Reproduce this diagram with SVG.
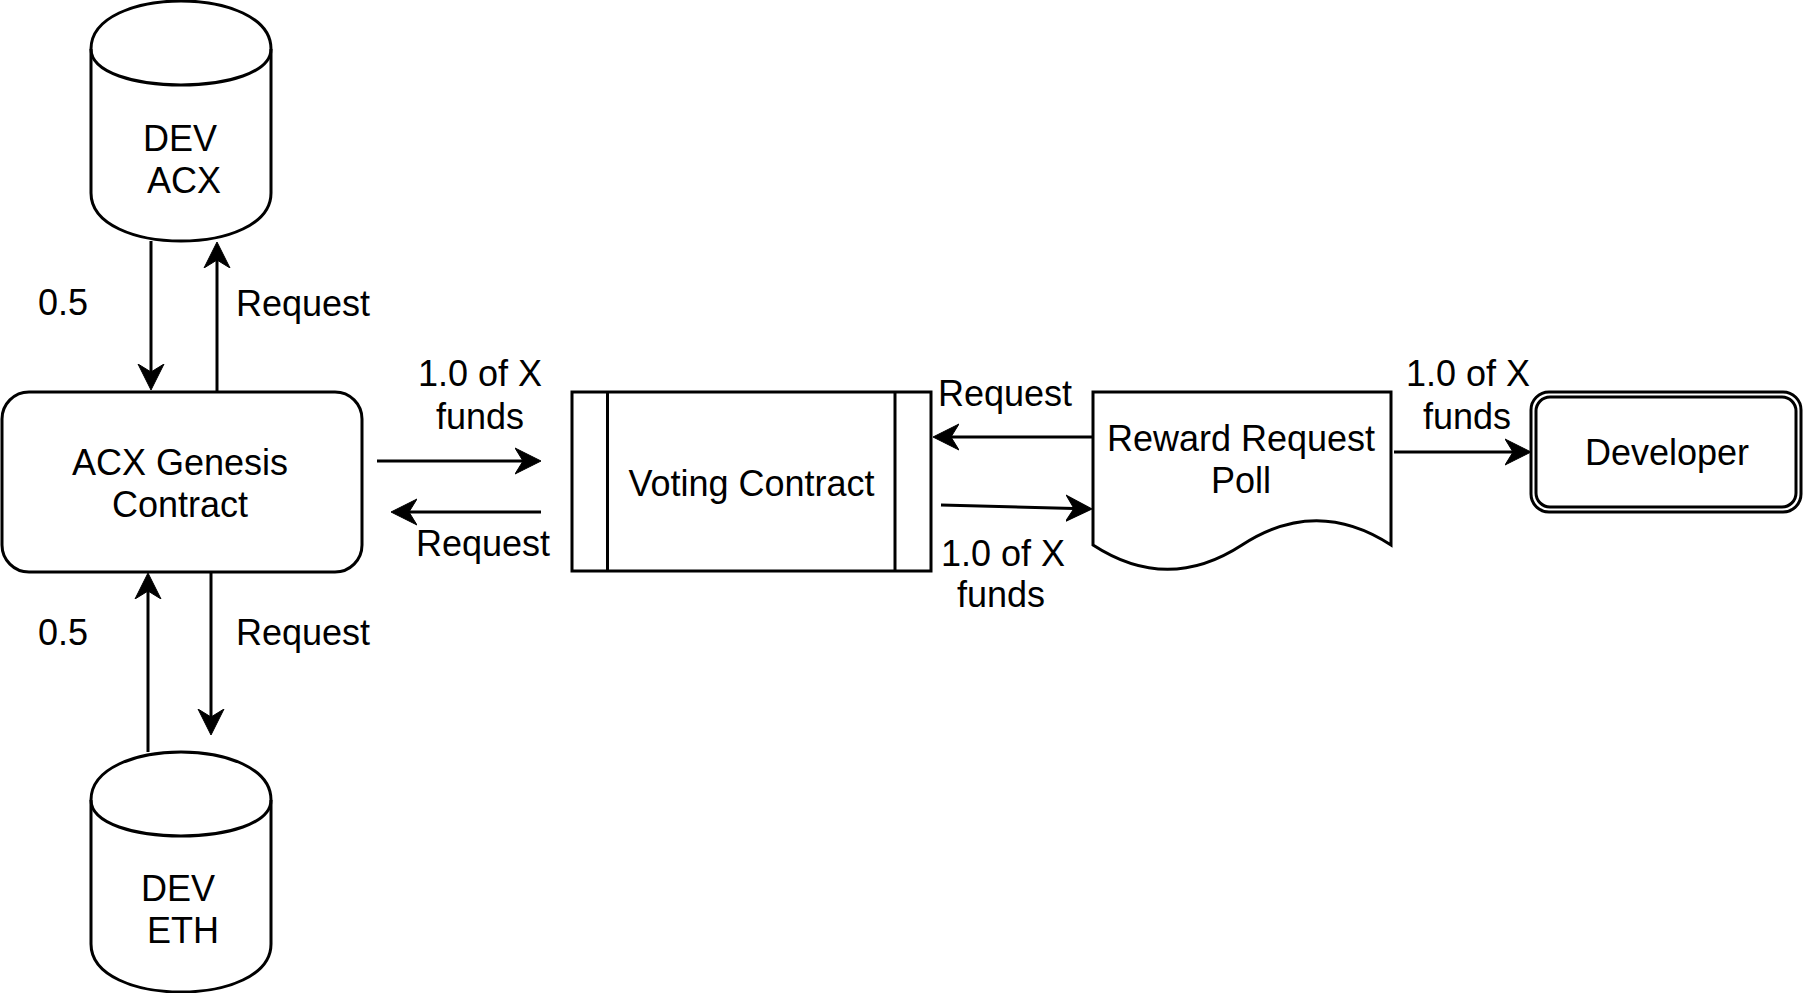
<svg xmlns="http://www.w3.org/2000/svg" width="1803" height="993" viewBox="0 0 1803 993">
<style>
.s{fill:#fff;stroke:#000;stroke-width:3}
.n{fill:none;stroke:#000;stroke-width:3}
.e{fill:none;stroke:#000;stroke-width:3;marker-end:url(#arr)}
text{font-family:"Liberation Sans",Arial,Helvetica,sans-serif;font-size:36px;fill:#000;text-anchor:middle}
</style>
<defs>
<marker id="arr" viewBox="0 0 28 28" refX="8" refY="14" markerWidth="28" markerHeight="28" markerUnits="userSpaceOnUse" orient="auto">
<path d="M26,14 L0,1 L8,14 L0,27 Z" fill="#000" stroke="#000" stroke-width="1"/>
</marker>
</defs>
<rect width="1803" height="993" fill="#fff"/>
<g id="connectors">
<line class="e" x1="151" y1="241" x2="151" y2="372"/>
<line class="e" x1="217" y1="392" x2="217" y2="260"/>
<line class="e" x1="148" y1="752" x2="148" y2="591"/>
<line class="e" x1="211" y1="572" x2="211" y2="717"/>
<line class="e" x1="377" y1="461" x2="523" y2="461"/>
<line class="e" x1="541" y1="512" x2="409" y2="512"/>
<line class="e" x1="1093" y1="437" x2="951" y2="437"/>
<line class="e" x1="941" y1="505" x2="1074" y2="508.5"/>
<line class="e" x1="1394" y1="452" x2="1513" y2="452"/>
<text x="63" y="315">0.5</text>
<text x="303" y="316">Request</text>
<text x="63" y="645">0.5</text>
<text x="303" y="645">Request</text>
<text x="480" y="386">1.0 of X</text>
<text x="480" y="429">funds</text>
<text x="483" y="556">Request</text>
<text x="1005" y="406">Request</text>
<text x="1003" y="566">1.0 of X</text>
<text x="1001" y="607">funds</text>
<text x="1468" y="386">1.0 of X</text>
<text x="1467" y="429">funds</text>
</g>
<g id="dev-acx">
<path class="s" d="M91,49 C91,-15 271,-15 271,49 L271,193 C271,257 91,257 91,193 Z"/>
<path class="n" d="M91,49 C91,97 271,97 271,49"/>
<text x="180" y="151">DEV</text>
<text x="184" y="193">ACX</text>
</g>
<g id="dev-eth">
<path class="s" d="M91,800 C91,736 271,736 271,800 L271,944 C271,1008 91,1008 91,944 Z"/>
<path class="n" d="M91,800 C91,848 271,848 271,800"/>
<text x="178" y="901">DEV</text>
<text x="183" y="943">ETH</text>
</g>
<g id="acx-genesis">
<rect class="s" x="2" y="392" width="360" height="180" rx="27"/>
<text x="180" y="475">ACX Genesis</text>
<text x="180" y="517">Contract</text>
</g>
<g id="voting-contract">
<rect class="s" x="572" y="392" width="359" height="179"/>
<line class="n" x1="607.5" y1="392" x2="607.5" y2="571"/>
<line class="n" x1="895" y1="392" x2="895" y2="571"/>
<text x="751.5" y="496">Voting Contract</text>
</g>
<g id="reward-request-poll">
<path class="s" d="M1093,392 L1391,392 L1391,545 Q1316.5,496.4 1242,545 Q1167.5,593.6 1093,545 Z"/>
<text x="1241" y="451">Reward Request</text>
<text x="1241" y="493">Poll</text>
</g>
<g id="developer">
<rect class="s" x="1531" y="392" width="270" height="120" rx="18"/>
<rect class="n" x="1536" y="397" width="260" height="110" rx="14"/>
<text x="1667" y="465">Developer</text>
</g>
</svg>
